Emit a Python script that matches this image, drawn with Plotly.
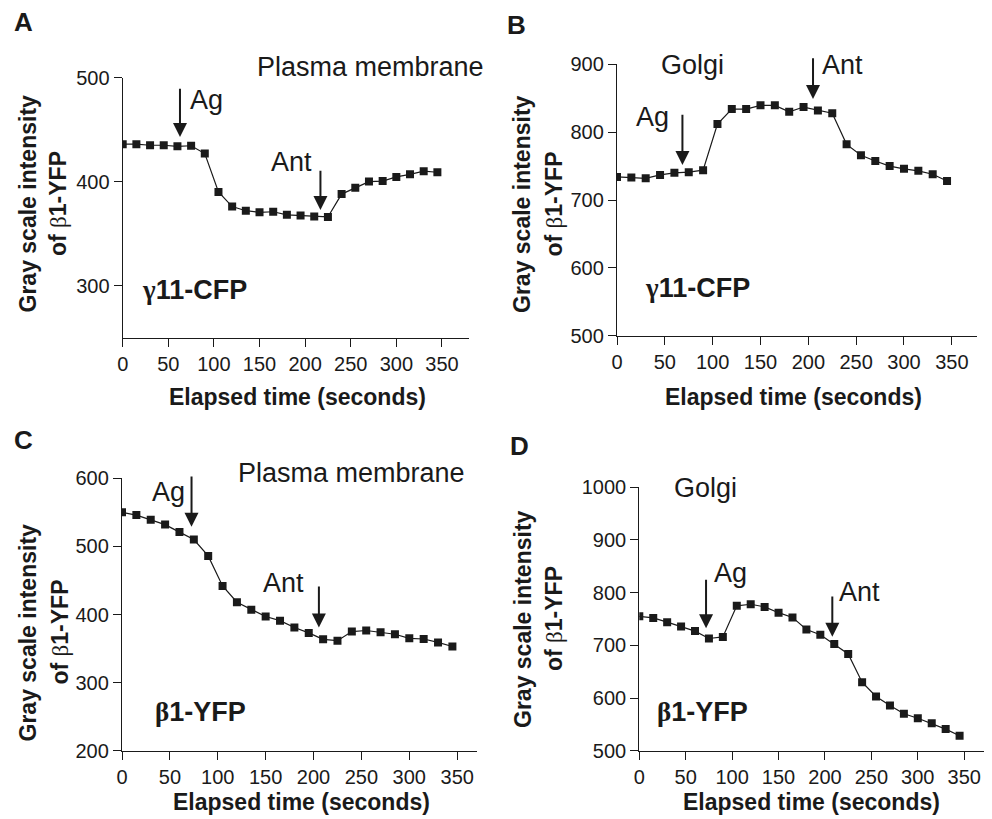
import plotly.graph_objects as go

# ---------------- data ----------------
time_s = [0, 15, 30, 45, 60, 75, 90, 105, 120, 135, 150, 165,
          180, 195, 210, 225, 240, 255, 270, 285, 300, 315, 330, 345]

a_pm_gamma = [436, 436, 435, 435, 434, 434.5, 427, 390, 376, 372, 370.5, 371,
              368, 367.5, 366.5, 366, 388, 394, 400, 400.5, 404.5, 407, 410, 409]
b_golgi_gamma = [734, 733, 732, 737, 740, 741, 744, 812, 834, 834, 839.5, 839.5,
                 830, 837, 832, 828, 782, 766, 757.5, 750, 746, 743, 738, 728]
c_pm_beta = [550, 546, 539, 532, 521, 510, 486, 442, 418, 407, 397, 391,
             381, 373, 363.5, 361.5, 375, 376.5, 374, 371, 365, 364, 359, 353]
d_golgi_beta = [755, 752, 744, 736, 727, 713, 716, 775, 778, 773, 762, 753,
                730, 720, 702.5, 683.5, 630, 603, 586, 570, 561.5, 552, 541, 528.5]

y_ticks_a = [300, 400, 500]
y_ticks_b = [500, 600, 700, 800, 900]
y_ticks_c = [200, 300, 400, 500, 600]
y_ticks_d = [500, 600, 700, 800, 900, 1000]
x_ticks = [0, 50, 100, 150, 200, 250, 300, 350]

series = [a_pm_gamma, b_golgi_gamma, c_pm_beta, d_golgi_beta]

# ---------------- figure ----------------
# the page body has an 8 px margin, so the figure is drawn 8 px smaller
# and all pixel positions (measured on the 992x819 page) are shifted by it
OFF = 8
W, H = 992 - OFF, 819 - OFF
INK = "#1a1a1a"
FONT = "Liberation Sans, Arial, Helvetica, sans-serif"
SERIF = "font-family:'Liberation Serif','DejaVu Serif',serif"

def px(x):
    return (x - OFF) / W

def py(y):
    return 1 - (y - OFF) / H

def greek(ch, bold=False):
    w = "bold" if bold else "normal"
    return "<span style=\"%s;font-weight:%s\">%s</span>" % (SERIF, w, ch)

fig = go.Figure()

for i, ys in enumerate(series):
    n = "" if i == 0 else str(i + 1)
    fig.add_trace(go.Scatter(
        x=time_s, y=ys, mode="lines+markers",
        xaxis="x" + n, yaxis="y" + n,
        line=dict(color=INK, width=1.2),
        marker=dict(symbol="square", size=8, color=INK),
        showlegend=False, hoverinfo="x+y",
    ))

# panel geometry (page pixels): x0, x1, ytop, ybottom
panels = [
    dict(x0=122.7, x1=469.3, yt=77.7, yb=337.5, xr=[0, 380], yr=[250, 500], yt_vals=y_ticks_a),
    dict(x0=617.0, x1=976.7, yt=64.3, yb=335.7, xr=[0, 376], yr=[500, 900], yt_vals=y_ticks_b),
    dict(x0=122.0, x1=477.3, yt=478.3, yb=750.7, xr=[0, 371], yr=[200, 600], yt_vals=y_ticks_c),
    dict(x0=639.3, x1=989.3, yt=487.3, yb=750.7, xr=[0, 377], yr=[500, 1000], yt_vals=y_ticks_d),
]

axis_common = dict(
    showline=True, linecolor=INK, linewidth=1.3,
    ticks="outside", ticklen=8, tickwidth=1.3, tickcolor=INK,
    showgrid=False, zeroline=False, automargin=False,
    tickfont=dict(family=FONT, size=20, color=INK),
)

layout = {}
for i, p in enumerate(panels):
    n = "" if i == 0 else str(i + 1)
    layout["xaxis" + n] = dict(
        axis_common, domain=[px(p["x0"]), px(p["x1"])], range=p["xr"],
        tickvals=x_ticks, anchor="y" + n,
    )
    layout["yaxis" + n] = dict(
        axis_common, domain=[py(p["yb"]), py(p["yt"])], range=p["yr"],
        tickvals=p["yt_vals"], anchor="x" + n,
    )

fig.update_layout(
    width=W, height=H,
    margin=dict(l=0, r=0, t=0, b=0, pad=0, autoexpand=False),
    paper_bgcolor="white", plot_bgcolor="white",
    font=dict(family=FONT, color=INK),
    **layout,
)

ann = []

# panel letters
for letter, (x, y) in zip("ABCD", [(23, 22), (516.5, 25), (23, 439.5), (519, 446)]):
    ann.append(dict(text="<b>%s</b>" % letter, x=px(x), y=py(y), xref="paper", yref="paper",
                    showarrow=False, xanchor="center", yanchor="middle",
                    font=dict(family=FONT, size=26, color=INK)))

# y titles (two lines each)
ytitle_pos = [(27.5, 58, 204), (522, 553.5, 204), (27, 59, 632.5), (523, 554, 619)]
for l1, l2, yc in ytitle_pos:
    for txt, xx in (("<b>Gray scale intensity</b>", l1),
                    ("<b>of </b>" + greek("β") + "<b>1-YFP</b>", l2)):
        ann.append(dict(text=txt, x=px(xx), y=py(yc), xref="paper", yref="paper",
                        showarrow=False, textangle=-90, xanchor="center", yanchor="middle",
                        font=dict(family=FONT, size=23, color=INK)))

# x titles
for xx, yy in [(297, 397), (793.5, 397), (301.7, 801.7), (811, 801.7)]:
    ann.append(dict(text="<b>Elapsed time (seconds)</b>", x=px(xx), y=py(yy),
                    xref="paper", yref="paper", showarrow=False,
                    xanchor="center", yanchor="middle",
                    font=dict(family=FONT, size=23, color=INK)))

# compartment labels above the axes (page position in px)
for txt, xx, yy in [("Plasma membrane", 255, 66.7), ("Plasma membrane", 236, 472.7)]:
    ann.append(dict(text=txt, x=px(xx), y=py(yy), xref="paper", yref="paper",
                    showarrow=False, xanchor="left", yanchor="middle",
                    font=dict(family=FONT, size=27, color=INK)))

gamma_lbl = greek("γ", True) + "<b>11-CFP</b>"
beta_lbl = greek("β", True) + "<b>1-YFP</b>"

# in-plot labels: (panel index, text, x, y)
labels = [
    (0, "Ag", 72, 478.5), (0, "Ant", 160, 419), (0, gamma_lbl, 19, 295.8),
    (1, "Golgi", 43.4, 899), (1, "Ag", 18, 822.8),
    (1, "Ant", 212.5, 899), (1, gamma_lbl, 26.7, 569.8),
    (2, "Ag", 29, 580.4), (2, "Ant", 145.5, 445.8), (2, beta_lbl, 32, 257),
    (3, "Golgi", 35, 999), (3, "Ag", 78.4, 836.7),
    (3, "Ant", 213, 802), (3, beta_lbl, 17.3, 574),
]
for i, txt, x, y in labels:
    n = "" if i == 0 else str(i + 1)
    ann.append(dict(text=txt, x=x, y=y,
                    xref="x" + n, yref="y" + n, showarrow=False,
                    xanchor="left", yanchor="middle",
                    font=dict(family=FONT, size=27, color=INK)))

# event arrows: (panel, x, y_tail, y_tip)
arrows = [
    (0, 62.8, 490.7, 443), (0, 216.8, 412, 372.7),
    (1, 68.4, 827.8, 751.6), (1, 204.9, 911, 849),
    (2, 72.6, 604.9, 529), (2, 205.6, 443.3, 381),
    (3, 71.9, 827.2, 732.3), (3, 207.9, 795.6, 716.5),
]
for i, x, yt, ytip in arrows:
    n = "" if i == 0 else str(i + 1)
    ann.append(dict(text="", x=x, y=ytip, ax=x, ay=yt,
                    xref="x" + n, yref="y" + n, axref="x" + n, ayref="y" + n,
                    showarrow=True, arrowhead=2, arrowsize=1.4, arrowwidth=2,
                    arrowcolor=INK, standoff=0, startstandoff=0))

fig.update_layout(annotations=ann)

fig.write_html("out.html")
